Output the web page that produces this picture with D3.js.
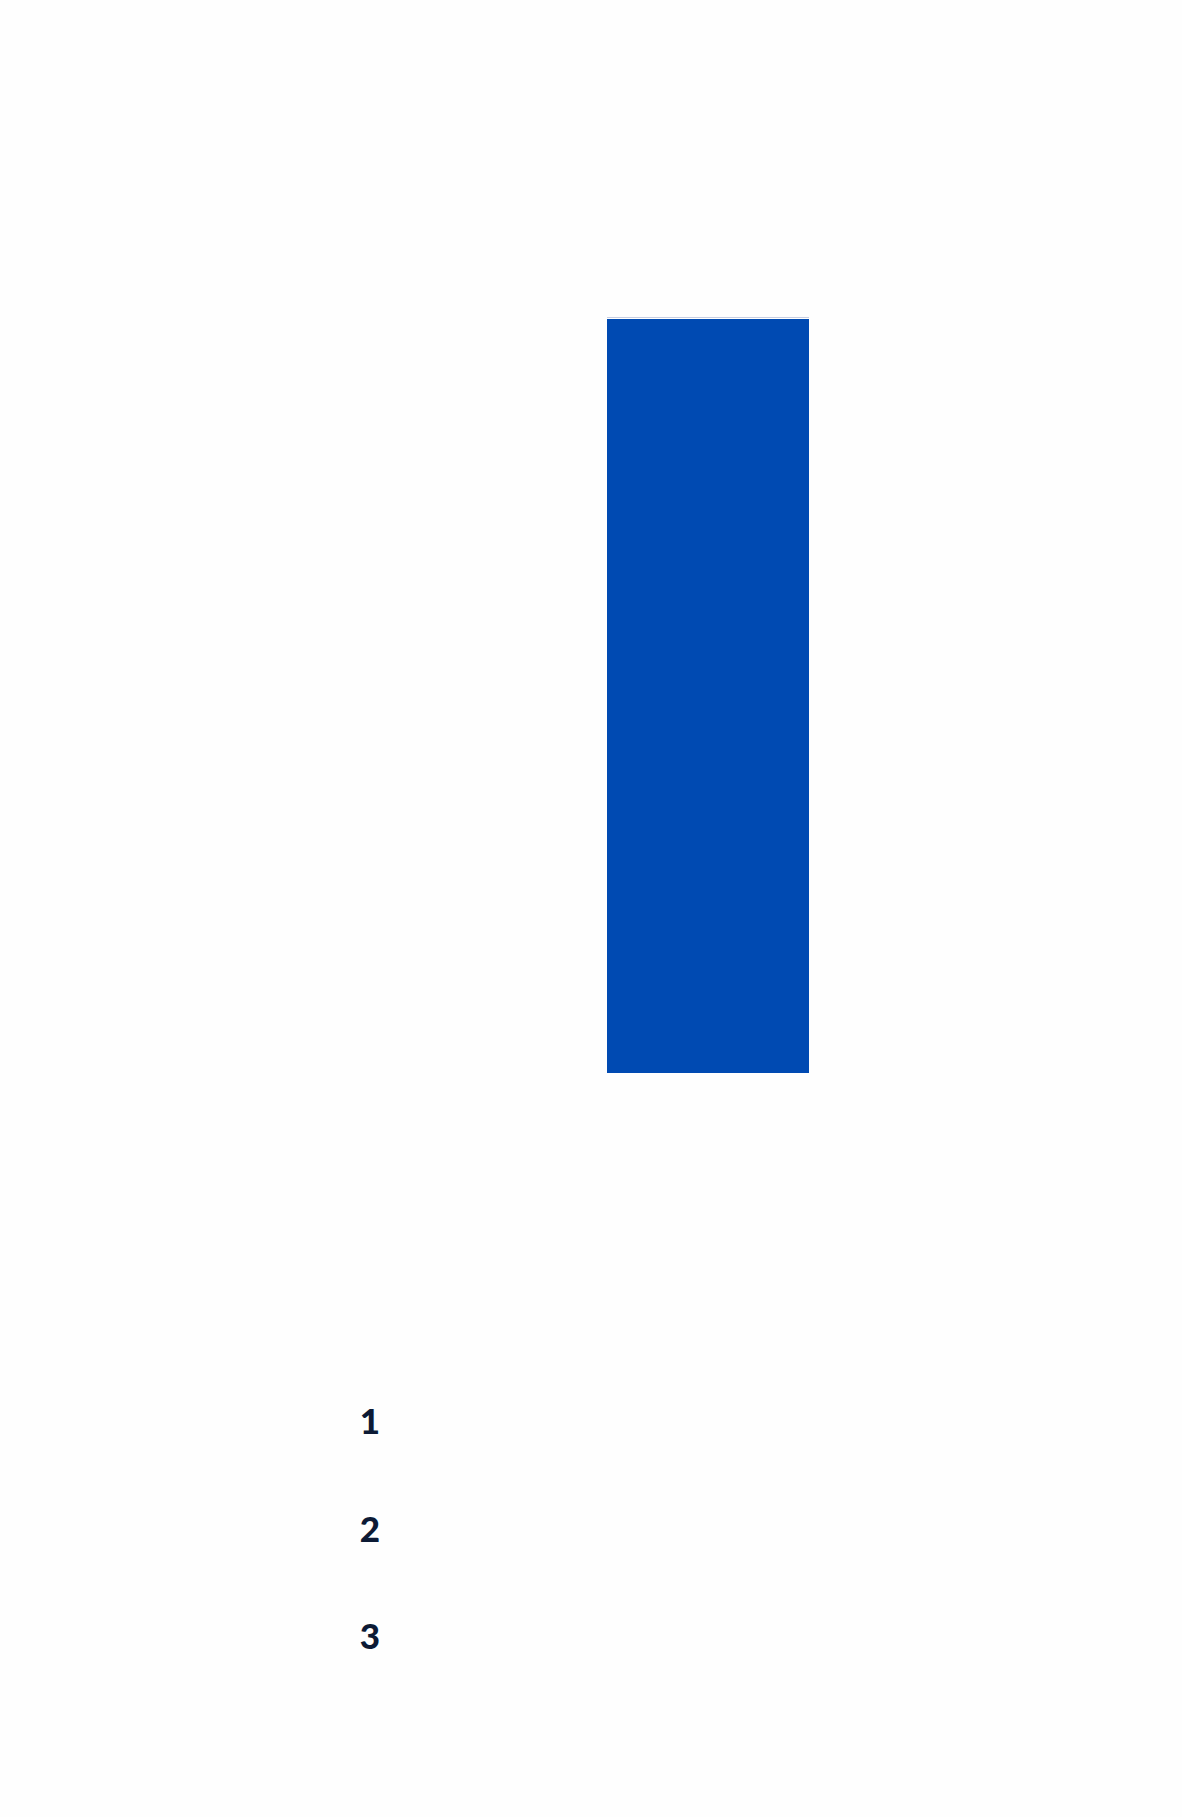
<!DOCTYPE html>
<html>
<head>
<meta charset="utf-8">
<script src="https://cdn.jsdelivr.net/npm/d3@7/dist/d3.min.js"></script>
<style>
  html, body { margin: 0; padding: 0; background: #ffffff; }
  svg { display: block; }
</style>
</head>
<body>
<svg id="chart" width="1182" height="1817"></svg>
<script>
// Data
const categories = ["A"];
const values = [100];
const rankLabels = ["1", "2", "3"];

const svg = d3.select("#chart");
svg.append("rect").attr("width", 1182).attr("height", 1817).attr("fill", "#fefefe");

const x = d3.scaleBand().domain(categories).range([607, 809]).padding(0);
const y = d3.scaleLinear().domain([0, 100]).range([1073, 319]);

// faint top line at scale maximum
svg.append("line")
  .attr("x1", x.range()[0]).attr("x2", x.range()[1])
  .attr("y1", y(100) - 1.5).attr("y2", y(100) - 1.5)
  .attr("stroke", "#c6cde2").attr("stroke-width", 1.2);

svg.selectAll("rect.bar")
  .data(values)
  .join("rect")
  .attr("class", "bar")
  .attr("x", (d, i) => x(categories[i]))
  .attr("width", x.bandwidth())
  .attr("y", d => y(d))
  .attr("height", d => y(0) - y(d))
  .attr("fill", "#004ab2");

// rank labels
const r = d3.scalePoint().domain(rankLabels).range([1434, 1649]);
svg.selectAll("text.rank")
  .data(rankLabels)
  .join("text")
  .attr("class", "rank")
  .attr("x", 370)
  .attr("y", d => r(d))
  .attr("text-anchor", "middle")
  .attr("font-family", "Lato, 'Open Sans', sans-serif")
  .attr("font-weight", 900)
  .attr("font-size", 35)
  .attr("fill", "#0c1a35")
  .text(d => d);
</script>
</body>
</html>
